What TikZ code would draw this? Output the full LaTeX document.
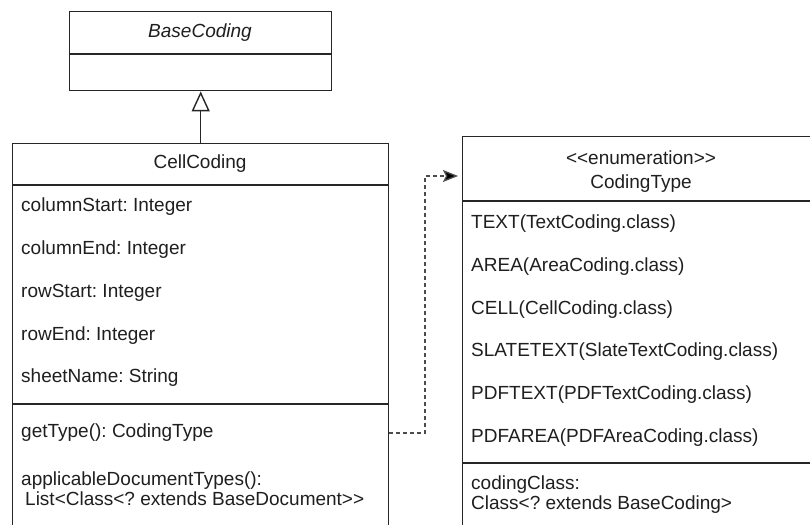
\documentclass[tikz,border=0pt]{standalone}
\usepackage{fontspec}
\setmainfont{Liberation Sans}
\usetikzlibrary{arrows.meta}
\frenchspacing
\begin{document}
\begin{tikzpicture}[x=1pt,y=-1pt,
  umlbox/.style={draw=black!85, line width=1.4pt, fill=white, inner sep=0pt, anchor=north west},
  divider/.style={draw=black!85, line width=1.4pt},
  txt/.style={font=\fontsize{19}{20}\selectfont, text=black!88, inner sep=0pt, anchor=west, align=left},
  ctxt/.style={font=\fontsize{19}{24}\selectfont, text=black!88, inner sep=0pt, align=center},
  inherit/.style={draw=black!85, line width=1.4pt, -{Triangle[open, length=20pt, width=18pt, fill=white]}},
  depend/.style={draw=black!70, line width=1.3pt, dash pattern=on 4pt off 3pt,
    -{Stealth[length=15pt, width=12pt, inset=3pt, fill=black]}, shorten >=4pt},
]
\useasboundingbox (0,0) rectangle (810,524);
\clip (0,0) rectangle (810,524);

% abstract base class
\node[umlbox, minimum width=262pt, minimum height=79pt] (base) at (69,11) {};
\draw[divider] (base.west |- 0,54) -- (base.east |- 0,54);
\node[ctxt, font=\fontsize{19}{24}\selectfont\itshape] (basename) at (200,33) {BaseCoding};

% concrete class
\node[umlbox, minimum width=376pt, minimum height=450pt] (cell) at (12,143) {};
\draw[divider] (cell.west |- 0,185) -- (cell.east |- 0,185);
\draw[divider] (cell.west |- 0,404) -- (cell.east |- 0,404);
\node[ctxt] (cellname) at (200,164) {CellCoding};
\node[txt] (colstart) at (21,207) {columnStart: Integer};
\node[txt] (colend) at (21,250) {columnEnd: Integer};
\node[txt] (rowstart) at (21,293) {rowStart: Integer};
\node[txt] (rowend) at (21,336) {rowEnd: Integer};
\node[txt] (sheet) at (21,378) {sheetName: String};
\node[txt] (gettype) at (21,433) {getType(): CodingType};
\node[txt] (applicable) at (21,489) {applicableDocumentTypes():\\\hspace*{4pt}List<Class<? extends BaseDocument>{}>};

% enumeration
\node[umlbox, minimum width=358pt, minimum height=450pt] (enum) at (462,136) {};
\draw[divider] (enum.west |- 0,201) -- (enum.east |- 0,201);
\draw[divider] (enum.west |- 0,463) -- (enum.east |- 0,463);
\node[ctxt] (enumname) at (641,172) {<{}<enumeration>{}>\\CodingType};
\node[txt] (vtext) at (471,224) {TEXT(TextCoding.class)};
\node[txt] (varea) at (471,267) {AREA(AreaCoding.class)};
\node[txt] (vcell) at (471,310) {CELL(CellCoding.class)};
\node[txt] (vslate) at (471,352) {SLATETEXT(SlateTextCoding.class)};
\node[txt] (vpdftext) at (471,395) {PDFTEXT(PDFTextCoding.class)};
\node[txt] (vpdfarea) at (471,438) {PDFAREA(PDFAreaCoding.class)};
\node[txt] (codingclass) at (471,495) {codingClass:\\Class<? extends BaseCoding>};

% relations
\draw[inherit] (cell.north) -- (base.south);
\coordinate (bend) at (425,176);
\draw[depend] (cell.east |- gettype) -| (bend) -- (enum.west |- bend);
\end{tikzpicture}
\end{document}
